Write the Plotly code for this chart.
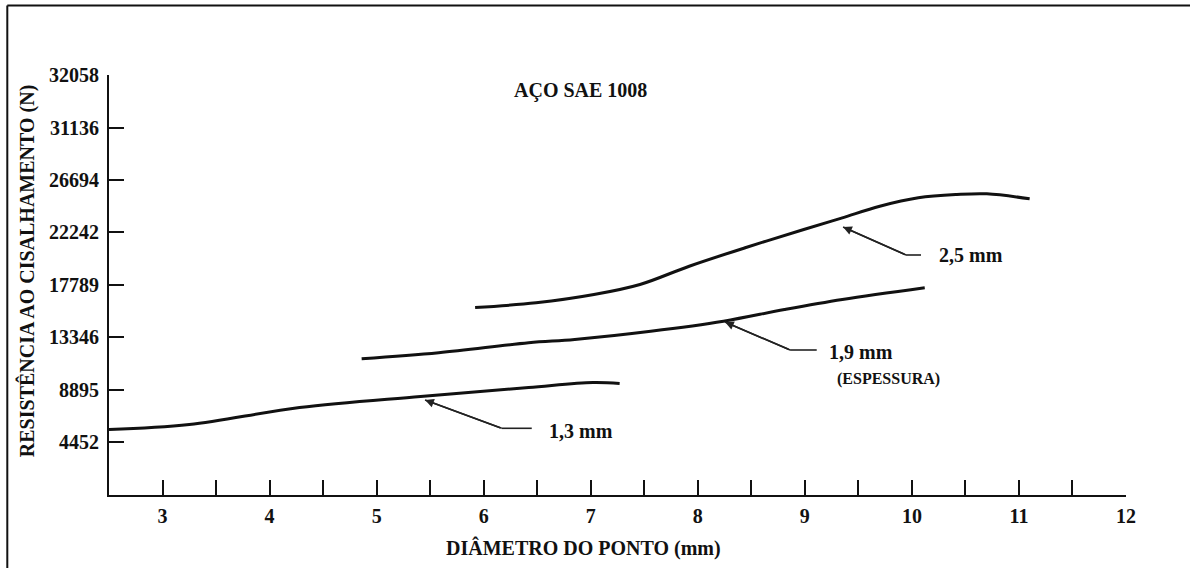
import plotly.graph_objects as go

# Shear strength vs. spot diameter, SAE 1008 steel, three sheet thicknesses
diam_13 = [2.5, 3.25, 4.28, 5.41, 6.42, 7.02, 7.27]
force_13 = [5550, 5970, 7410, 8345, 9105, 9530, 9445]

diam_19 = [4.86, 5.58, 6.42, 6.85, 7.56, 8.24, 8.81, 9.35, 10.12]
force_19 = [11540, 12050, 12895, 13175, 13875, 14725, 15715, 16565, 17555]

diam_25 = [5.92, 6.49, 7.03, 7.46, 7.92, 8.45, 8.99, 9.35, 9.70, 10.06, 10.42, 10.70, 11.10]
force_25 = [15885, 16285, 16985, 17835, 19385, 20970, 22495, 23485, 24465, 25180, 25460, 25520, 25095]

x_label_vals = [3, 4, 5, 6, 7, 8, 9, 10, 11, 12]
x_mark_vals = [3, 3.5, 4, 4.5, 5, 5.5, 6, 6.5, 7, 7.5, 8, 8.5, 9, 9.5, 10, 10.5, 11, 11.5]
y_label_vals = [4452, 8895, 13346, 17789, 22242, 26694, 31136, 35586]
y_label_text = ["4452", "8895", "13346", "17789", "22242", "26694", "31136", "32058"]
y_mark_vals = [4452, 8895, 13346, 17789, 22242, 26694, 31136]

INK = "#111111"
FONT = "Liberation Serif"

fig = go.Figure()
for xs, ys in [(diam_13, force_13), (diam_19, force_19), (diam_25, force_25)]:
    fig.add_trace(go.Scatter(
        x=xs, y=ys, mode="lines",
        line=dict(color=INK, width=3, shape="spline", smoothing=1.0),
        showlegend=False, hoverinfo="skip",
    ))

# empty trace that carries the tick-mark-only overlay axes
fig.add_trace(go.Scatter(x=[], y=[], xaxis="x2", yaxis="y2", showlegend=False))

X_RANGE = [2.5, 12]
Y_RANGE = [0, 35586]

fig.update_layout(
    width=1190, height=568,
    margin=dict(l=109, r=64, t=75, b=73),
    paper_bgcolor="white", plot_bgcolor="white",
    font=dict(family=FONT, color=INK, size=19),
    xaxis=dict(
        range=X_RANGE, tickvals=x_label_vals, ticks="", showgrid=False, zeroline=False,
        showline=True, linecolor=INK, linewidth=2,
        tickfont=dict(family=FONT, size=20, color=INK, weight="bold"),
        ticklabelstandoff=2,
    ),
    yaxis=dict(
        range=Y_RANGE, tickvals=y_label_vals, ticktext=y_label_text, ticks="",
        showgrid=False, zeroline=False, showline=True, linecolor=INK, linewidth=2,
        tickfont=dict(family=FONT, size=20, color=INK, weight="bold"),
        ticklabelstandoff=4,
    ),
    xaxis2=dict(
        overlaying="x", matches="x", range=X_RANGE, tickvals=x_mark_vals,
        ticks="inside", ticklen=15, tickwidth=2, tickcolor=INK,
        showticklabels=False, showgrid=False, zeroline=False, showline=False,
    ),
    yaxis2=dict(
        overlaying="y", matches="y", range=Y_RANGE, tickvals=y_mark_vals,
        ticks="inside", ticklen=15, tickwidth=2, tickcolor=INK,
        showticklabels=False, showgrid=False, zeroline=False, showline=False,
    ),
)

bold = lambda s: dict(family=FONT, size=s, color=INK, weight="bold")

annotations = [
    dict(text="AÇO SAE 1008", xref="paper", yref="paper", x=0.464, y=0.964,
         xanchor="center", yanchor="middle", showarrow=False, font=bold(20)),
    dict(text="DIÂMETRO DO PONTO (mm)", xref="paper", yref="paper", x=0.467, y=-0.126,
         xanchor="center", yanchor="middle", showarrow=False, font=bold(20)),
    dict(text="RESISTÊNCIA AO CISALHAMENTO (N)", xref="paper", yref="paper",
         x=-0.0806, y=0.533, textangle=-90, xanchor="center", yanchor="middle",
         showarrow=False, font=bold(20)),
    dict(text="2,5 mm", x=10.23, y=20335, xanchor="left", yanchor="middle",
         showarrow=False, font=bold(20)),
    dict(text="1,9 mm", x=9.204, y=12100, xanchor="left", yanchor="middle",
         showarrow=False, font=bold(20)),
    dict(text="(ESPESSURA)", x=9.282, y=9829, xanchor="left", yanchor="middle",
         showarrow=False, font=bold(16)),
    dict(text="1,3 mm", x=6.589, y=5450, xanchor="left", yanchor="middle",
         showarrow=False, font=bold(20)),
]

# leader lines: diagonal arrow to the curve plus a short horizontal tail
leaders = [
    ((9.357, 22708), (9.945, 20335), 10.085),
    ((8.254, 14658), (8.862, 12286), 9.111),
    ((5.452, 8049), (6.168, 5651), 6.449),
]
LEADER = dict(color="#222222", width=1.6)
shapes = []
for (hx, hy), (kx, ky), ex in leaders:
    annotations.append(dict(
        x=hx, y=hy, ax=kx, ay=ky, axref="x", ayref="y", text="",
        showarrow=True, arrowhead=2, arrowsize=1.1, arrowwidth=1.6,
        arrowcolor="#222222", standoff=0, startstandoff=0, font=dict(size=1),
    ))
    shapes.append(dict(type="line", x0=kx, y0=ky, x1=hx, y1=hy, line=LEADER))
    shapes.append(dict(type="line", x0=kx, y0=ky, x1=ex, y1=ky, line=LEADER))

# outer frame (top and left edges)
shapes.append(dict(type="line", xref="paper", yref="paper", x0=-0.1, y0=-0.3,
                   x1=-0.1, y1=1.1655, line=dict(color=INK, width=2)))
shapes.append(dict(type="line", xref="paper", yref="paper", x0=-0.1, y0=1.1655,
                   x1=1.2, y1=1.1655, line=dict(color=INK, width=2)))

fig.update_layout(annotations=annotations, shapes=shapes)

fig.write_html("out.html")
